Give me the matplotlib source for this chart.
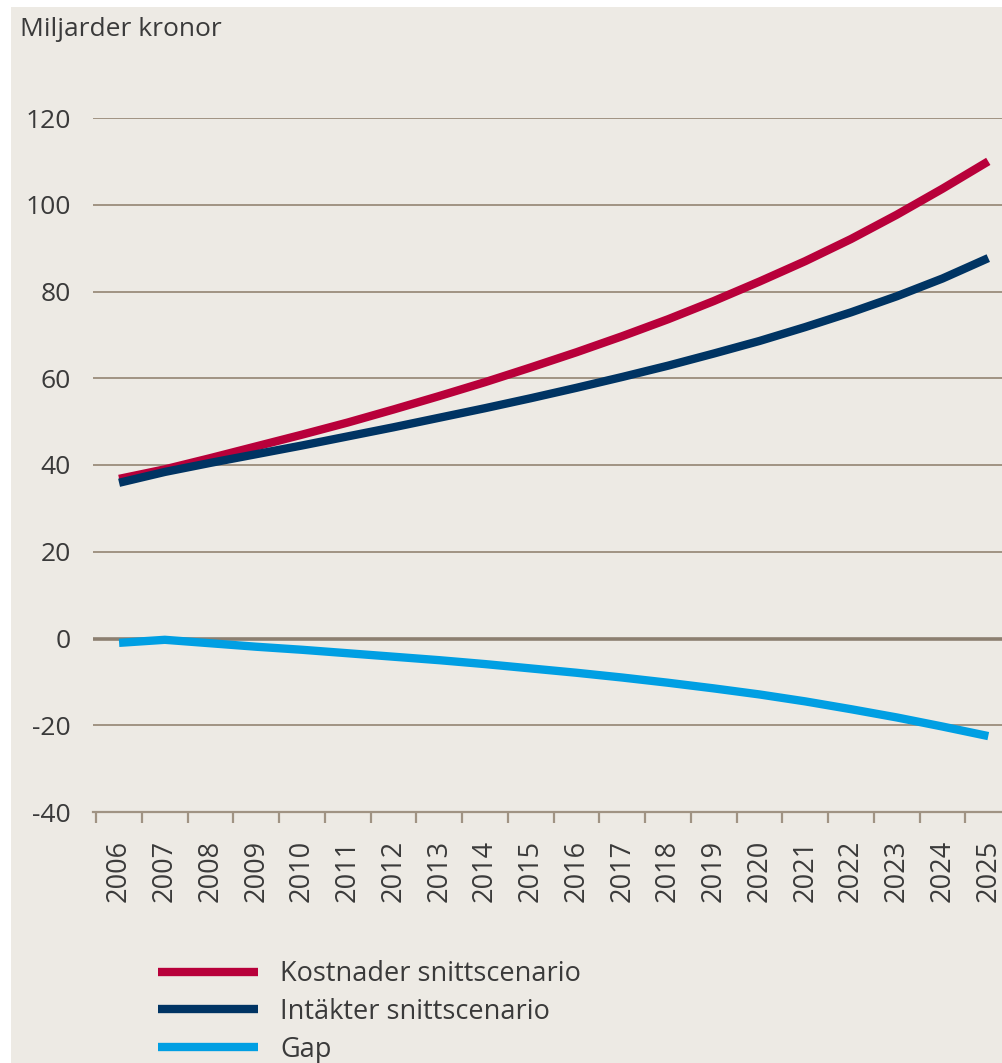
import matplotlib
matplotlib.use("Agg")
import matplotlib.pyplot as plt
from matplotlib.patches import Rectangle

# Data (billion SEK)
years = list(range(2006, 2026))
kostnader = [36.8, 39.0, 41.6, 44.3, 47.0, 49.8, 52.8, 55.9, 59.1, 62.5,
             66.0, 69.7, 73.6, 77.8, 82.3, 87.0, 92.1, 97.7, 103.7, 110.0]
intakter = [35.9, 38.4, 40.5, 42.5, 44.5, 46.6, 48.7, 50.9, 53.1, 55.4,
            57.8, 60.3, 62.9, 65.7, 68.6, 71.8, 75.2, 78.9, 83.0, 87.7]
gap = [-1.0, -0.3, -1.1, -1.9, -2.6, -3.4, -4.2, -5.0, -5.9, -6.9,
       -7.9, -9.0, -10.2, -11.5, -12.9, -14.5, -16.3, -18.2, -20.3, -22.5]
labels = ["Kostnader snittscenario", "Intäkter snittscenario", "Gap"]
yticks = [-40, -20, 0, 20, 40, 60, 80, 100, 120]

bg = "#edeae4"
grid_col = "#a09383"
text_col = "#3a3a3a"

plt.rcParams["font.family"] = ["Open Sans", "DejaVu Sans"]

W, H = 1002, 1063
fig = plt.figure(figsize=(W / 100, H / 100), dpi=100, facecolor="white")
fig.patches.append(Rectangle((11 / W, 0), 1 - 11 / W, 1 - 7 / H,
                             transform=fig.transFigure, facecolor=bg,
                             edgecolor="none", zorder=-10))

ax = fig.add_axes([93 / W, (H - 812) / H, (W - 93) / W, 694 / H])
ax.set_facecolor("none")

ax.plot(years, kostnader, color="#b8003a", lw=6, solid_capstyle="butt", label=labels[0])
ax.plot(years, intakter, color="#003463", lw=6, solid_capstyle="butt", label=labels[1])
ax.plot(years, gap, color="#009fe3", lw=6, solid_capstyle="butt", label=labels[2])

ax.set_xlim(2005.43, 2025.30)
ax.set_ylim(-40, 120)

# gridlines, zero line a bit darker
for v in yticks:
    if v == 0:
        ax.axhline(v, color="#8c7f70", lw=2.6, zorder=0)
    elif v != -40:
        ax.axhline(v, color=grid_col, lw=1.4, zorder=0)

for s in ["top", "right", "left"]:
    ax.spines[s].set_visible(False)
ax.spines["bottom"].set_color(grid_col)
ax.spines["bottom"].set_linewidth(1.6)

ax.set_yticks(yticks)
ax.set_yticklabels([str(v) for v in yticks], fontsize=19, color=text_col)
ax.tick_params(axis="y", length=0, pad=16)

ax.set_xticks(years)
ax.set_xticklabels([str(y) for y in years], rotation=90, fontsize=19.5, color=text_col)
ax.set_xticks([y - 0.5 for y in years], minor=True)
ax.tick_params(axis="x", which="major", length=0, pad=20)
ax.tick_params(axis="x", which="minor", length=8, width=1.6, color=grid_col)

fig.text(20 / W, 1 - 30 / H, "Miljarder kronor", fontsize=19, color=text_col, va="center")

fig.legend(loc="upper left", bbox_to_anchor=(158 / W, 1 - 960 / H), frameon=False,
           fontsize=19.5, handlelength=3.7, handletextpad=0.8, labelspacing=0.36,
           borderpad=0, borderaxespad=0, labelcolor=text_col)

fig.savefig("out.png", dpi=100, facecolor=fig.get_facecolor())
